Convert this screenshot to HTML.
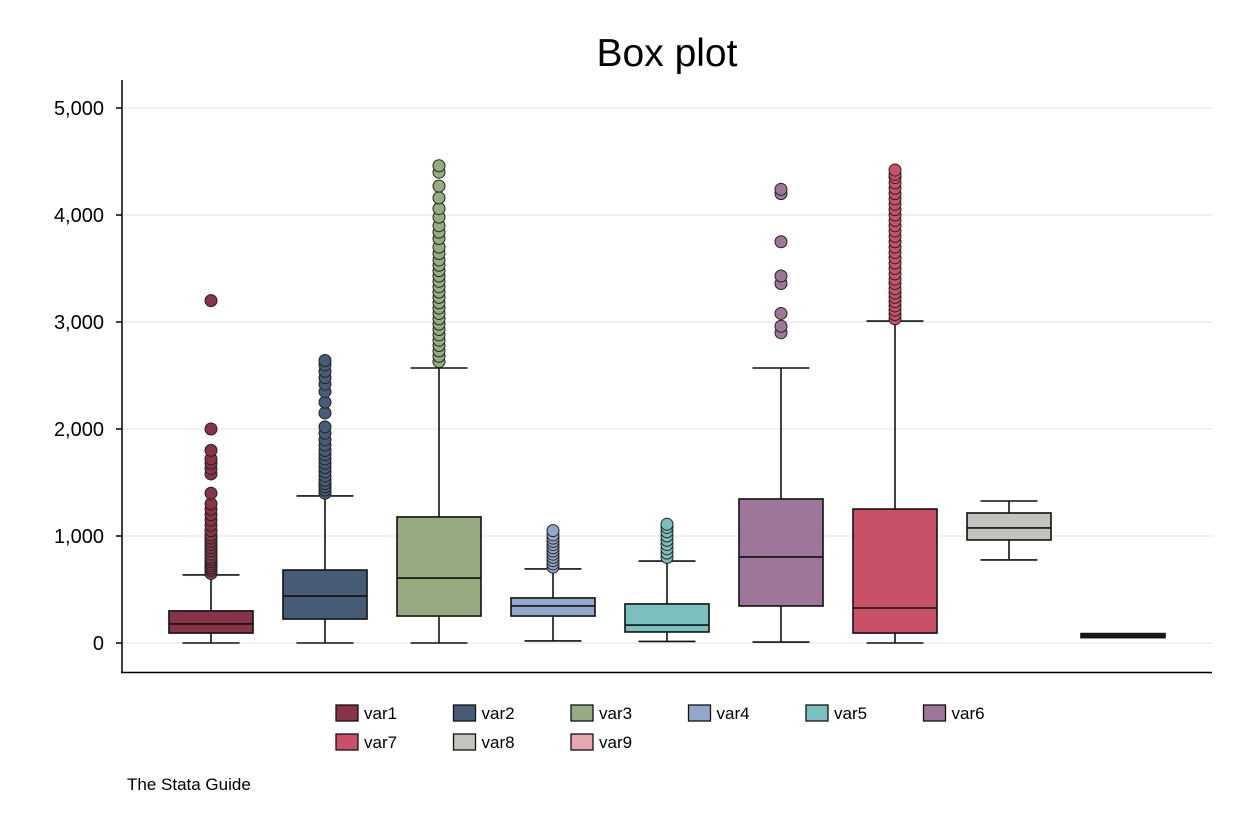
<!DOCTYPE html>
<html><head><meta charset="utf-8"><style>
html,body{margin:0;padding:0;background:#fff;}
svg{display:block;font-family:"Liberation Sans",Arial,sans-serif;}
</style></head><body>
<svg id="chart" width="1242" height="828" viewBox="0 0 1242 828">
<rect width="1242" height="828" fill="#fff"/>
<text x="667" y="66" text-anchor="middle" font-size="39" fill="#000">Box plot</text>
<g id="grid"></g>
<g id="yaxis"></g>
<g id="boxes"></g>
<line x1="122" y1="80" x2="122" y2="673" stroke="#000" stroke-width="1.5"/>
<line x1="121" y1="672.5" x2="1212" y2="672.5" stroke="#000" stroke-width="1.5"/>
<g id="legend"></g>
<text x="127" y="790" font-size="17" fill="#000">The Stata Guide</text>
</svg>
<script>
const names = ["var1","var2","var3","var4","var5","var6","var7","var8","var9"];
const colors = ["#883448","#475d77","#96ab7f","#93a6cb","#7bbfbe","#9e7699","#c95167","#c3c4bd","#e8a5b2"];
const lowerWhisker = [0,0,0,19,15,9,0,776,60];
const q1 = [93,224,252,252,103,346,93,963,50];
const median = [178,439,607,346,168,804,327,1075,68];
const q3 = [300,682,1178,421,365,1346,1252,1215,88];
const upperWhisker = [636,1374,2570,692,766,2570,3009,1327,76];
const outliers = [
 [650,680,700,720,740,760,780,800,830,860,890,920,950,980,1010,1050,1100,1150,1200,1250,1300,1400,1580,1630,1680,1720,1800,2000,3200],
 [1400,1430,1460,1490,1520,1560,1600,1640,1680,1720,1760,1800,1850,1900,1960,2020,2150,2250,2350,2420,2480,2540,2600,2640],
 [2630,2680,2730,2780,2830,2880,2930,2980,3030,3080,3130,3180,3230,3280,3330,3380,3430,3480,3530,3580,3640,3700,3780,3840,3900,3980,4060,4160,4270,4400,4460],
 [710,740,770,800,830,860,890,920,950,980,1010,1050],
 [800,840,880,920,960,1000,1040,1080,1110],
 [2900,2960,3080,3360,3430,3750,4200,4240],
 [3030,3070,3110,3150,3190,3230,3270,3310,3360,3400,3450,3500,3550,3600,3650,3700,3750,3800,3850,3900,3950,4000,4050,4100,4150,4200,4250,4300,4350,4380,4420],
 [],[]
];
const yTicks = [0,1000,2000,3000,4000,5000];
const yTickLabels = ["0","1,000","2,000","3,000","4,000","5,000"];

const NS="http://www.w3.org/2000/svg";
const Y0=643, PX_PER=0.107;
function y(v){return Y0 - v*PX_PER;}
function x(i){return 211 + i*114;}
function mk(tag,attrs,parent){const e=document.createElementNS(NS,tag);for(const k in attrs)e.setAttribute(k,attrs[k]);parent.appendChild(e);return e;}
const grid=document.getElementById('grid'), yax=document.getElementById('yaxis');
yTicks.forEach((t,i)=>{
  const gl=mk('line',{x1:122,x2:1212,y1:y(t),y2:y(t),stroke:'#e3e3e3','stroke-width':1},grid);
  
  
  const tk=mk('line',{x1:116,x2:122,y1:y(t),y2:y(t),stroke:'#000','stroke-width':1.5},yax);
  
  
  const lb=mk('text',{x:104,y:y(t)+7,'text-anchor':'end','font-size':20,fill:'#000'},yax);
  lb.textContent=yTickLabels[i];
  
  
});
const boxes=document.getElementById('boxes');
names.forEach((n,i)=>{
  const g=mk('g',{},boxes);
  
  
  const cx=x(i), bw=84, cw=57;
  const s={stroke:'#111','stroke-width':1.6};
  const w1=mk('line',Object.assign({x1:cx,x2:cx,y1:y(q3[i]),y2:y(upperWhisker[i])},s),g);
  
  
  const w2=mk('line',Object.assign({x1:cx,x2:cx,y1:y(q1[i]),y2:y(lowerWhisker[i])},s),g);
  
  
  const c1=mk('line',Object.assign({x1:cx-cw/2,x2:cx+cw/2,y1:y(upperWhisker[i]),y2:y(upperWhisker[i])},s),g);
  
  
  const c2=mk('line',Object.assign({x1:cx-cw/2,x2:cx+cw/2,y1:y(lowerWhisker[i]),y2:y(lowerWhisker[i])},s),g);
  
  
  const h=y(q1[i])-y(q3[i]);
  const r=mk('rect',{x:cx-bw/2,y:y(q3[i]),width:bw,height:Math.max(1,h),fill:h<8?'#333':colors[i],stroke:'#111','stroke-width':1.6},g);
  
  
  const m=mk('line',{x1:cx-bw/2,x2:cx+bw/2,y1:y(median[i]),y2:y(median[i]),stroke:'#111','stroke-width':1.6},g);
  
  
  outliers[i].forEach(v=>{
    const c=mk('circle',{cx:cx,cy:y(v),r:6,fill:colors[i],stroke:'#222','stroke-width':1},g);
    
    
  });
});
const leg=document.getElementById('legend');
names.forEach((n,i)=>{
  const row=Math.floor(i/6), col=i%6;
  const lx=336+col*117.5, ly=705+row*29;
  const g=mk('g',{},leg);
  
  
  mk('rect',{x:lx,y:ly,width:22,height:16,fill:colors[i],stroke:'#111','stroke-width':1.3},g);
  const t=mk('text',{x:lx+28,y:ly+14,'font-size':17,fill:'#000'},g);
  t.textContent=n;
});
</script>
</body></html>
